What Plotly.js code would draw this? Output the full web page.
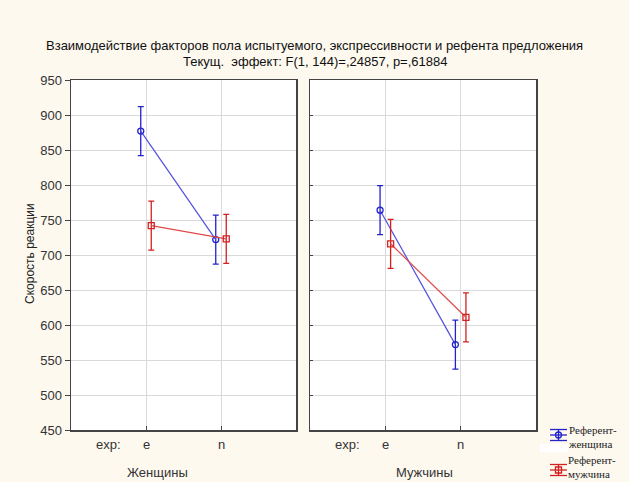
<!DOCTYPE html>
<html><head><meta charset="utf-8">
<script src="https://cdn.plot.ly/plotly-3.0.1.min.js"></script>
<style>html,body{margin:0;padding:0;background:#fdf9ef;overflow:hidden;width:629px;height:482px;}#chart{position:absolute;left:0;top:0;}</style>
</head><body>
<div id="chart" style="width:629px;height:482px;"></div>
<script>
const categories = ['e', 'n'];
const panels = ['Женщины', 'Мужчины'];
const seriesNames = ['Референт-<br>женщина', 'Референт-<br>мужчина'];
const titleLines = ['Взаимодействие факторов пола испытуемого, экспрессивности и рефента предложения',
                    'Текущ.  эффект: F(1, 144)=,24857, p=,61884'];
// women panel
const womenRefFemale = [877, 722];
const womenRefFemaleErr = [35, 35];
const womenRefMale = [742, 723];
const womenRefMaleErr = [35, 35];
// men panel
const menRefFemale = [764, 572];
const menRefFemaleErr = [35, 35];
const menRefMale = [716, 611];
const menRefMaleErr = [35, 35];
const yTicks = [450, 500, 550, 600, 650, 700, 750, 800, 850, 900, 950];

const blue = '#2323cc', blueLine = '#5050e0';
const red = '#d42020', redLine = '#e04a4a';
const colors = [blue, red];
const off = 0.07;
const xs = (d) => categories.map((c, i) => i + 1 + d);

function tr(x, y, err, color, lineColor, symbol, xa, ya, name) {
  return {
    type: 'scatter', mode: 'lines+markers', x: x, y: y, xaxis: xa, yaxis: ya,
    name: name, showlegend: false,
    line: {color: lineColor, width: 1.2},
    marker: {symbol: symbol, size: 6, color: color, line: {color: color, width: 1.3}},
    error_y: {type: 'data', array: err, visible: true, color: color, thickness: 1.3, width: 3},
    hoverinfo: 'skip'
  };
}

const data = [
  tr(xs(-off), womenRefFemale, womenRefFemaleErr, blue, blueLine, 'circle-open', 'x', 'y', seriesNames[0]),
  tr(xs(off), womenRefMale, womenRefMaleErr, red, redLine, 'square-open', 'x', 'y', seriesNames[1]),
  tr(xs(-off), menRefFemale, menRefFemaleErr, blue, blueLine, 'circle-open', 'x2', 'y2', seriesNames[0]),
  tr(xs(off), menRefMale, menRefMaleErr, red, redLine, 'square-open', 'x2', 'y2', seriesNames[1])
];

const W = 629, H = 482;
const py = (p) => 1 - p / H, px = (p) => p / W;
const yTop = py(80), yBot = py(430);
const tickFont = {family: 'Liberation Sans, Arial, sans-serif', size: 13, color: '#333'};
const xaxisBase = {
  range: [0, 3], tickvals: [1, 2], ticktext: categories, showticklabels: false,
  ticks: 'inside', ticklen: 4, tickcolor: '#444',
  showgrid: true, gridcolor: '#d9d9d9', gridwidth: 1,
  showline: true, linecolor: '#444', linewidth: 1.5, mirror: true,
  zeroline: false, fixedrange: true, automargin: false
};
const yaxisBase = {
  range: [450, 950], tickvals: yTicks,
  showgrid: true, gridcolor: '#d9d9d9', gridwidth: 1,
  showline: true, linecolor: '#444', linewidth: 1.5, mirror: true,
  zeroline: false, fixedrange: true, automargin: false,
  domain: [yBot, yTop], tickfont: tickFont
};

const font = {family: 'Liberation Sans, Arial, sans-serif', size: 12, color: '#222'};
const annotations = [];
['x', 'x2'].forEach((xa) => {
  annotations.push({xref: xa, yref: 'paper', x: 0.5, y: py(444), text: 'exp:', showarrow: false,
    font: tickFont, xanchor: 'center', yanchor: 'middle'});
  categories.forEach((c, i) => {
    annotations.push({xref: xa, yref: 'paper', x: i + 1, y: py(444), text: c, showarrow: false,
      font: tickFont, xanchor: 'center', yanchor: 'middle'});
  });
});
annotations.push({xref: 'paper', yref: 'paper', x: px(158), y: py(472), text: panels[0], showarrow: false,
  font: tickFont, xanchor: 'center', yanchor: 'middle'});
annotations.push({xref: 'paper', yref: 'paper', x: px(424), y: py(472), text: panels[1], showarrow: false,
  font: tickFont, xanchor: 'center', yanchor: 'middle'});
annotations.push({xref: 'paper', yref: 'paper', x: px(30), y: py(254), text: 'Скорость реакции', showarrow: false,
  textangle: -90, font: font, xanchor: 'center', yanchor: 'middle'});
annotations.push({xref: 'paper', yref: 'paper', x: 0.5, y: py(45), text: titleLines[0], showarrow: false,
  font: {family: 'Liberation Sans, Arial, sans-serif', size: 13, color: '#111'}, xanchor: 'center', yanchor: 'middle'});
annotations.push({xref: 'paper', yref: 'paper', x: 0.5, y: py(61), text: titleLines[1], showarrow: false,
  font: {family: 'Liberation Sans, Arial, sans-serif', size: 13, color: '#111'}, xanchor: 'center', yanchor: 'middle'});

// custom legend (glyph: horizontal line with error-bar caps and marker)
const shapes = [];
shapes.push({type: 'rect', xref: 'paper', yref: 'paper', x0: px(540), x1: px(568), y0: py(452), y1: py(444),
  fillcolor: '#ffffff', line: {width: 0}, layer: 'below'});
const legendY = [435, 470];
const legendTextY = [437, 467];
legendY.forEach((cy, k) => {
  const c = colors[k];
  [-5.5, 0, 5.5].forEach((d) => {
    shapes.push({type: 'line', xref: 'paper', yref: 'paper', x0: px(550), x1: px(567), y0: py(cy + d), y1: py(cy + d),
      line: {color: c, width: 1.3}});
  });
  shapes.push({type: 'line', xref: 'paper', yref: 'paper', x0: px(558.5), x1: px(558.5), y0: py(cy - 5.5), y1: py(cy + 5.5),
    line: {color: c, width: 1.3}});
  if (k === 0) {
    shapes.push({type: 'circle', xref: 'paper', yref: 'paper', x0: px(555.5), x1: px(561.5), y0: py(cy + 3), y1: py(cy - 3),
      line: {color: c, width: 1.3}});
  } else {
    shapes.push({type: 'rect', xref: 'paper', yref: 'paper', x0: px(555.5), x1: px(561.5), y0: py(cy + 3), y1: py(cy - 3),
      line: {color: c, width: 1.3}});
  }
  annotations.push({xref: 'paper', yref: 'paper', x: px(566), y: py(legendTextY[k]), text: seriesNames[k], showarrow: false,
    align: 'left', xanchor: 'left', yanchor: 'middle',
    font: {family: 'Liberation Serif, DejaVu Serif, serif', size: 11, color: '#222'}});
});

const layout = {
  width: W, height: H,
  margin: {l: 0, r: 0, t: 0, b: 0},
  paper_bgcolor: '#fdf9ef', plot_bgcolor: '#ffffff',
  font: font,
  xaxis: Object.assign({}, xaxisBase, {domain: [px(71), px(296)], anchor: 'y'}),
  xaxis2: Object.assign({}, xaxisBase, {domain: [px(310), px(536)], anchor: 'y2'}),
  yaxis: Object.assign({}, yaxisBase, {anchor: 'x', ticks: 'outside', ticklen: 5, tickcolor: '#444', showticklabels: true}),
  yaxis2: Object.assign({}, yaxisBase, {anchor: 'x2', ticks: 'inside', ticklen: 3, tickcolor: '#444', showticklabels: false}),
  showlegend: false,
  shapes: shapes,
  annotations: annotations
};

Plotly.newPlot('chart', data, layout, {staticPlot: true, displayModeBar: false});
</script>
</body></html>
